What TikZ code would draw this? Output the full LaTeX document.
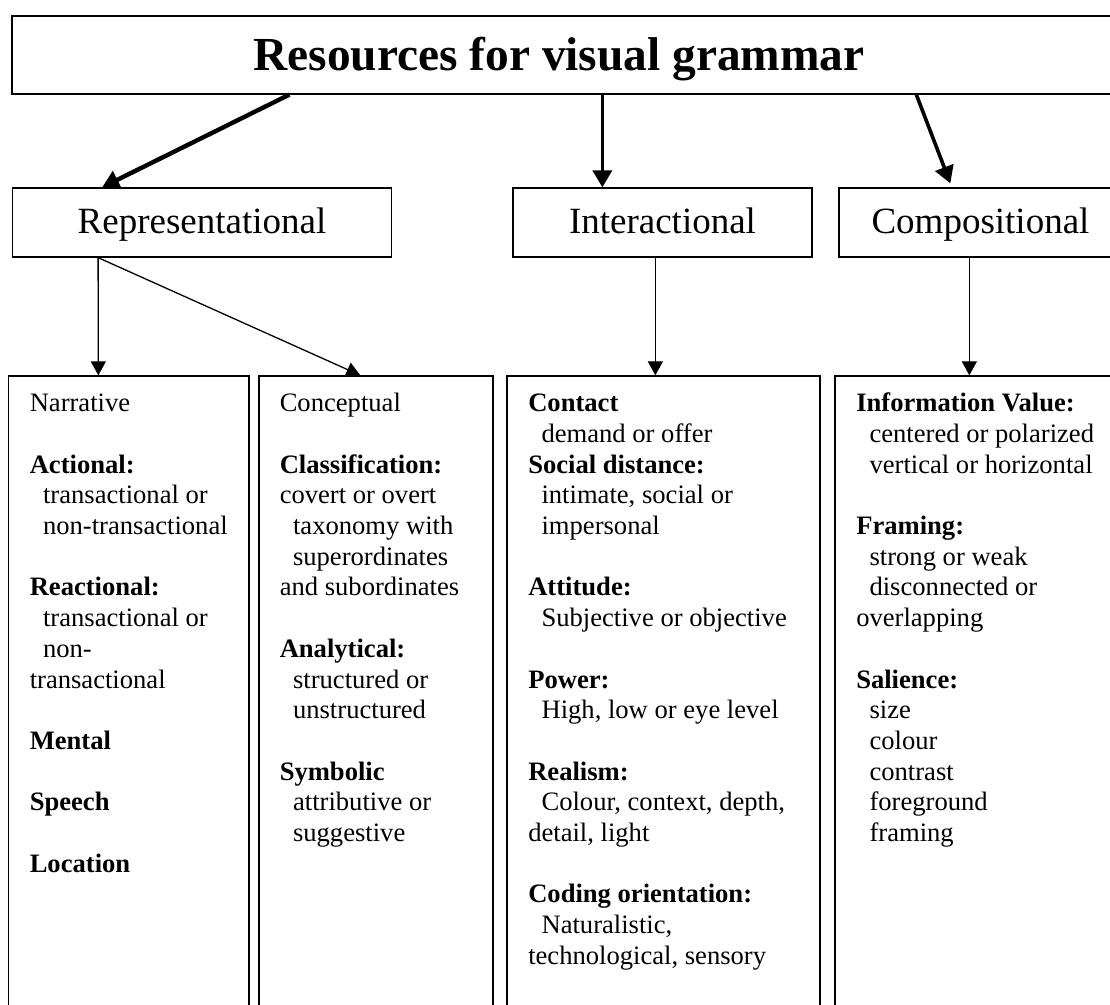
\documentclass[tikz,border=0pt]{standalone}
\usepackage{fontspec}
\setmainfont{Liberation Serif}
\usetikzlibrary{arrows.meta, positioning, calc}

\newcommand{\ind}{\hspace*{0.5em}}

\begin{document}
\begin{tikzpicture}[
		x=0.5pt, y=-0.5pt,
		box/.style={draw, line width=0.65pt, inner sep=0pt},
		catbox/.style={box, minimum height=34.5pt, font=\fontsize{18.5}{21}\selectfont, text height=13.9pt, text depth=3.3pt},
		listbox/.style={box, minimum height=332pt},
		listtext/.style={align=left, inner sep=0pt, font=\fontsize{13.3}{15.35}\selectfont},
		titletext/.style={font=\fontsize{23.7}{28}\selectfont\bfseries, inner sep=0pt},
		bigarrow/.style={-{Triangle[length=8.5pt, width=9.5pt]}, line width=1.8pt},
		thinarrow/.style={-{Triangle[length=7pt, width=7.5pt]}, line width=0.65pt}
		]
		\path[fill=white, use as bounding box] (0,0) rectangle (1110,1005);
		\clip (0,0) rectangle (1110,1005);

		% top box
		\node[box, minimum width=559pt, minimum height=39pt] at (571,55) (title) {};
		\node[titletext, anchor=base] at (559,71) (titletxt) {Resources for visual grammar};

		% the three metafunctions
		\node[catbox, minimum width=189.75pt] at (202,222.5) (rep) {Representational};
		\node[catbox, minimum width=149.5pt] at (662.5,222.5) (inter) {Interactional};
		\node[catbox, minimum width=141.5pt] at (980.5,222.5) (comp) {Compositional};

		% lower boxes (open at the bottom)
		\node[listbox, minimum width=120.25pt] at (128.75,708) (narr) {};
		\node[listbox, minimum width=117pt] at (376,708) (conc) {};
		\node[listbox, minimum width=156.5pt] at (663.5,708) (intl) {};
		\node[listbox, minimum width=147.5pt] at (982.5,708) (compl) {};

		% arrows
		\draw[bigarrow, line width=2.2pt] ($(title.south west)+(278,0)$) -- ($(rep.north west)+(90.5,0)$);
		\draw[bigarrow] ($(title.south west)+(591,0)$) -- ($(inter.north west)+(90,0)$);
		\draw[bigarrow] ($(title.south west)+(905,0)$) -- ($(comp.north west)+(112,-4)$);
		\draw[thinarrow] ($(rep.south west)+(86.5,0)$) -- ($(narr.north west)+(90.5,0)$);
		\draw[thinarrow] ($(rep.south west)+(86.5,0)$) -- ($(conc.north west)+(102,0)$);
		\draw[thinarrow] ($(inter.south west)+(143,0)$) -- ($(intl.north west)+(149,0)$);
		\draw[thinarrow] ($(comp.south west)+(131,0)$) -- ($(compl.north west)+(135,0)$);

		% box texts
		\node[listtext, below right=7.25pt and 10.75pt of narr.north west] (narrtxt) {\strut Narrative\\[15.35pt]
			\textbf{Actional:}\\
			\ind transactional or\\
			\ind non-transactional\\[15.35pt]
			\textbf{Reactional:}\\
			\ind transactional or\\
			\ind non-\\
			transactional\\[15.35pt]
			\textbf{Mental}\\[15.35pt]
			\textbf{Speech}\\[15.35pt]
			\textbf{Location}};

		\node[listtext, below right=7.25pt and 10.5pt of conc.north west] (conctxt) {\strut Conceptual\\[15.35pt]
			\textbf{Classification:}\\
			covert or overt\\
			\ind taxonomy with\\
			\ind superordinates\\
			and subordinates\\[15.35pt]
			\textbf{Analytical:}\\
			\ind structured or\\
			\ind unstructured\\[15.35pt]
			\textbf{Symbolic}\\
			\ind attributive or\\
			\ind suggestive};

		\node[listtext, below right=7.25pt and 10.75pt of intl.north west] (intltxt) {\strut\textbf{Contact}\\
			\ind demand or offer\\
			\textbf{Social distance:}\\
			\ind intimate, social or\\
			\ind impersonal\\[15.35pt]
			\textbf{Attitude:}\\
			\ind Subjective or objective\\[15.35pt]
			\textbf{Power:}\\
			\ind High, low or eye level\\[15.35pt]
			\textbf{Realism:}\\
			\ind Colour, context, depth,\\
			detail, light\\[15.35pt]
			\textbf{Coding orientation:}\\
			\ind Naturalistic,\\
			technological, sensory};

		\node[listtext, below right=7.25pt and 10.75pt of compl.north west] (compltxt) {\strut\textbf{Information Value:}\\
			\ind centered or polarized\\
			\ind vertical or horizontal\\[15.35pt]
			\textbf{Framing:}\\
			\ind strong or weak\\
			\ind disconnected or\\
			overlapping\\[15.35pt]
			\textbf{Salience:}\\
			\ind size\\
			\ind colour\\
			\ind contrast\\
			\ind foreground\\
			\ind framing};
	\end{tikzpicture}
\end{document}
